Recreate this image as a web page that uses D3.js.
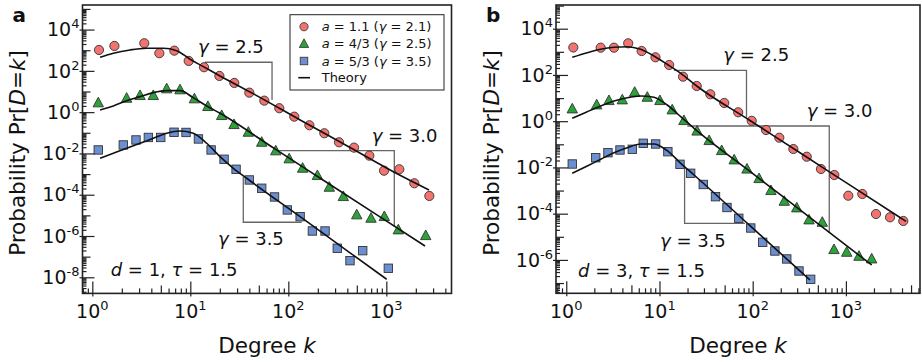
<!DOCTYPE html>
<html>
<head>
<meta charset="utf-8">
<script src="https://cdn.jsdelivr.net/npm/d3@7"></script>
<style>
  body { margin: 0; background: #fff; }
  svg { font-family: "DejaVu Sans", sans-serif; }
</style>
</head>
<body>
<svg id="chart" width="922" height="362"></svg>
<script>
// ---- panel a : d = 1, tau = 1.5 ----
const kRedA = [1.17, 1.68, 3.39, 4.83, 6.87, 9.63, 13.8, 19.8, 28.1, 40.0, 56.9, 80.9, 115, 164, 233, 329, 468, 671, 947, 1357, 1931, 2747];
const pRedA = [1.03e3, 1.61e3, 2.18e3, 714, 954, 302, 150, 56.7, 26.0, 8.81, 3.61, 1.55, 0.605, 0.232, 0.095, 0.0348, 0.0191, 7.81e-3, 1.46e-3, 1.71e-3, 3.59e-4, 8.71e-5];
const kGreenA = [1.15, 2.24, 3.07, 4.19, 5.74, 7.85, 11.0, 15.1, 20.9, 27.9, 39.1, 53.5, 74.4, 102, 140, 198, 262, 364, 499, 698, 954, 1326, 2523];
const pGreenA = [3.02, 5.04, 6.81, 6.81, 14.4, 12.9, 4.71, 2.00, 0.732, 0.268, 0.1135, 0.0372, 0.01426, 5.84e-3, 2.05e-3, 9.07e-4, 2.46e-4, 8.71e-5, 1.13e-5, 7.74e-6, 9.35e-6, 2.12e-6, 1.12e-6];
const kBlueA = [1.15, 2.07, 2.79, 3.73, 4.99, 6.82, 9.04, 12.1, 16.3, 22.1, 29.3, 40.0, 53.5, 72.3, 97.7, 132, 176, 237, 316, 426, 574, 1048];
const pBlueA = [0.01474, 0.02576, 0.045, 0.0595, 0.0595, 0.1062, 0.1039, 0.0503, 0.01474, 5.22e-3, 1.71e-3, 5.19e-4, 2.06e-4, 7.79e-5, 1.83e-5, 8.65e-6, 1.75e-6, 1.75e-6, 2.55e-7, 6.39e-8, 1.95e-7, 2.74e-8];

const kThRedA = [1.20, 1.64, 2.42, 3.59, 5.30, 7.26, 9.93, 13.6, 20.1, 40.7, 132, 426, 1380, 2728];
const pThRedA = [457, 714, 1032, 1247, 1247, 954, 366, 160, 56.7, 9.52, 0.419, 0.0195, 8.77e-4, 1.70e-4];
const kThGreenA = [1.20, 1.64, 2.24, 3.07, 4.19, 5.74, 7.85, 10.7, 14.7, 20.1, 73.1, 266, 863, 2483];
const pThGreenA = [1.28, 2.00, 3.61, 5.64, 8.81, 11.0, 11.0, 5.04, 2.00, 0.885, 0.0165, 3.14e-4, 8.46e-6, 3.29e-7];
const kThBlueA = [1.20, 1.64, 2.24, 3.07, 4.19, 5.74, 7.85, 10.7, 14.7, 20.1, 27.5, 37.6, 132, 426, 1009];
const pThBlueA = [5.84e-3, 0.0102, 0.0178, 0.0311, 0.0544, 0.095, 0.1228, 0.095, 0.0311, 6.98e-3, 1.91e-3, 6.27e-4, 8.65e-6, 1.54e-7, 8.02e-9];

// slope guides [k, P]
const slope25A = [[14.1, 262], [68.2, 262], [68.2, 3.90]];
const slope30A = [[73.1, 0.01363], [1206, 0.01363], [1206, 2.74e-6]];
const slope35A = [[34.7, 7.50e-4], [34.7, 4.63e-6], [137, 4.63e-6]];

// ---- panel b : d = 3, tau = 1.5 ----
const kRedB = [1.19, 2.34, 3.25, 4.62, 6.44, 9.06, 12.7, 17.9, 25.1, 35.1, 49.5, 69.9, 97.6, 139, 193, 273, 380, 540, 751, 1061, 1500, 2104, 2973, 4129];
const pRedB = [1540, 1511, 1511, 2341, 1087, 580, 270, 84.1, 33.3, 14.6, 6.13, 2.43, 1.04, 0.416, 0.193, 0.0627, 0.0291, 8.56e-3, 4.71e-3, 5.99e-4, 7.10e-4, 9.69e-5, 6.97e-5, 4.83e-5];
const kGreenB = [1.16, 2.12, 2.87, 3.99, 5.42, 7.40, 10.1, 13.7, 18.3, 25.3, 34.1, 46.5, 63.3, 86.9, 117, 157, 218, 297, 402, 558, 745, 1020, 1382, 1891];
const pGreenB = [3.61, 5.38, 8.26, 8.86, 18.9, 11.5, 8.26, 3.27, 1.13, 0.396, 0.1538, 0.0568, 0.0225, 9.0e-3, 3.49e-3, 1.06e-3, 3.64e-4, 1.89e-4, 5.71e-5, 4.50e-5, 2.97e-6, 2.27e-6, 1.52e-6, 1.17e-6];
const kBlueB = [1.16, 2.07, 2.80, 3.77, 5.11, 6.70, 9.10, 12.3, 16.6, 21.6, 29.5, 39.9, 53.0, 70.9, 95.4, 128, 173, 232, 314, 419];
const pBlueB = [0.01409, 0.0264, 0.0434, 0.0568, 0.0609, 0.1107, 0.1032, 0.0479, 0.01367, 5.58e-3, 1.83e-3, 5.43e-4, 1.85e-4, 6.31e-5, 2.40e-5, 5.78e-6, 2.43e-6, 1.10e-6, 3.32e-7, 1.45e-7];

const kThRedB = [1.16, 1.68, 2.34, 3.25, 4.51, 6.28, 8.73, 12.1, 16.9, 25.1, 93.5, 322, 1107, 4414];
const pThRedB = [580, 918, 1288, 1572, 1669, 1288, 661, 289, 118, 33.3, 1.07, 0.043, 1.71e-3, 4.64e-5];
const kThGreenB = [1.16, 1.68, 2.34, 3.25, 4.51, 6.28, 8.73, 12.1, 16.9, 23.5, 93.5, 322, 1891];
const pThGreenB = [1.33, 2.58, 4.54, 7.47, 10.4, 12.3, 10.8, 5.02, 1.57, 0.493, 6.74e-3, 1.46e-4, 6.03e-7];
const kThBlueB = [1.16, 1.68, 2.34, 3.25, 4.51, 6.28, 8.73, 12.1, 16.9, 23.5, 93.5, 412];
const pThBlueB = [5.58e-3, 0.01154, 0.0225, 0.0434, 0.0714, 0.1032, 0.1032, 0.053, 0.0151, 4.71e-3, 3.02e-5, 1.35e-7];

const slope25B = [[14.3, 159], [85.8, 159], [85.8, 1.45]];
const slope30B = [[19.9, 0.62], [663, 0.62], [663, 1.46e-5]];
const slope35B = [[18.6, 0.01189], [18.6, 3.84e-5], [82.7, 3.84e-5]];

// legend
const aValues = ['1.1', '4/3', '5/3'];
const gammaValues = ['2.1', '2.5', '3.5'];

const COLORS = ['#f2736f', '#2ba23a', '#6b8fd0'];
const SHAPES = ['circle', 'triangle', 'square'];
const EDGE = '#333';
const FONT_TICK = 19;

const zip = (ks, ps) => ks.map((k, i) => [k, ps[i]]);

const panels = [
  {
    letter: 'a', frame: { left: 82.5, right: 451.5, top: 5, bottom: 293.4 },
    xDomain: [0.794, 4624], yDomain: [1.66e-9, 1.55e5],
    series: [zip(kRedA, pRedA), zip(kGreenA, pGreenA), zip(kBlueA, pBlueA)],
    theory: [zip(kThRedA, pThRedA), zip(kThGreenA, pThGreenA), zip(kThBlueA, pThBlueA)],
    slopes: [slope25A, slope30A, slope35A],
    notes: [
      { t: 'γ = 2.5', x: 198, y: 53.3 },
      { t: 'γ = 3.0', x: 371.7, y: 141.7 },
      { t: 'γ = 3.5', x: 218, y: 245 }
    ],
    param: { d: '1', x: 110.7, y: 276 },
    legend: true
  },
  {
    letter: 'b', frame: { left: 556, right: 920, top: 5, bottom: 293.3 },
    xDomain: [0.776, 6237], yDomain: [3.6e-8, 1.06e5],
    series: [zip(kRedB, pRedB), zip(kGreenB, pGreenB), zip(kBlueB, pBlueB)],
    theory: [zip(kThRedB, pThRedB), zip(kThGreenB, pThGreenB), zip(kThBlueB, pThBlueB)],
    slopes: [slope25B, slope30B, slope35B],
    notes: [
      { t: 'γ = 2.5', x: 723.3, y: 60.7 },
      { t: 'γ = 3.0', x: 806.7, y: 117.3 },
      { t: 'γ = 3.5', x: 660, y: 247.3 }
    ],
    param: { d: '3', x: 578, y: 276.7 },
    legend: false
  }
];

const svg = d3.select('#chart');

function marker(sel, shape, color) {
  if (shape === 'circle') {
    sel.append('circle').attr('r', 4.6);
  } else if (shape === 'square') {
    sel.append('rect').attr('x', -4.2).attr('y', -4.2).attr('width', 8.4).attr('height', 8.4);
  } else {
    sel.append('path').attr('d', 'M0,-5L5.2,4.6L-5.2,4.6Z');
  }
  sel.selectAll('*').attr('fill', color).attr('stroke', EDGE).attr('stroke-width', 0.9);
}

function logTicks(dom) {
  const lo = Math.floor(Math.log10(dom[0]));
  const hi = Math.ceil(Math.log10(dom[1]));
  const inside = (v) => v >= dom[0] && v <= dom[1];
  const decades = d3.range(lo, hi + 1).map((e) => Math.pow(10, e)).filter(inside);
  const minor = [];
  d3.range(lo, hi + 1).forEach((e) =>
    d3.range(2, 10).forEach((m) => minor.push(m * Math.pow(10, e)))
  );
  return { decades, minor: minor.filter(inside) };
}

function tickAxis(g, axis, values, len, out) {
  const a = g.append('g').call(axis.tickValues(values).tickSize(-len).tickFormat(() => ''));
  a.select('.domain').remove();
  a.selectAll('.tick text').remove();
  a.selectAll('.tick line').attr('stroke', '#222').attr('stroke-width', 1.2);
  if (out) a.selectAll('.tick line').attr(axis.orient ? 'y1' : 'y1', 0);
  return a;
}

function powLabel(sel, exp) {
  sel.append('tspan').text('10');
  sel.append('tspan').attr('font-size', 13).attr('dy', -8).text(String(exp));
}

panels.forEach((p) => {
  const f = p.frame;
  const x = d3.scaleLog().domain(p.xDomain).range([f.left, f.right]);
  const y = d3.scaleLog().domain(p.yDomain).range([f.bottom, f.top]);
  const g = svg.append('g');

  // slope guides
  const guide = d3.line().x((d) => x(d[0])).y((d) => y(d[1]));
  g.selectAll('path.slope')
    .data(p.slopes)
    .join('path')
    .attr('class', 'slope')
    .attr('d', guide)
    .attr('fill', 'none')
    .attr('stroke', '#666')
    .attr('stroke-width', 1.3);

  // simulation markers
  p.series.forEach((s, i) => {
    g.append('g')
      .selectAll('g')
      .data(s)
      .join('g')
      .attr('transform', (d) => 'translate(' + x(d[0]) + ',' + y(d[1]) + ')')
      .each(function () { marker(d3.select(this), SHAPES[i], COLORS[i]); });
  });

  // theory curves
  const line = d3.line().x((d) => x(d[0])).y((d) => y(d[1])).curve(d3.curveMonotoneX);
  g.selectAll('path.theory')
    .data(p.theory)
    .join('path')
    .attr('class', 'theory')
    .attr('d', line)
    .attr('fill', 'none')
    .attr('stroke', '#111')
    .attr('stroke-width', 1.6);

  // annotations
  p.notes.forEach((n) => {
    const t = g.append('text').attr('x', n.x).attr('y', n.y).attr('font-size', 18).attr('fill', '#111');
    t.append('tspan').attr('font-style', 'italic').text('γ');
    t.append('tspan').text(n.t.slice(1));
  });
  const pt = g.append('text').attr('x', p.param.x).attr('y', p.param.y).attr('font-size', 18).attr('fill', '#111');
  pt.append('tspan').attr('font-style', 'italic').text('d');
  pt.append('tspan').text(' = ' + p.param.d + ', ');
  pt.append('tspan').attr('font-style', 'italic').text('τ');
  pt.append('tspan').text(' = 1.5');

  // axes: ticks point inward
  const xt = logTicks(p.xDomain);
  const yt = logTicks(p.yDomain);
  const gx = g.append('g').attr('transform', 'translate(0,' + f.bottom + ')');
  const fives = xt.minor.filter((v) => Math.abs(v / Math.pow(10, Math.floor(Math.log10(v) + 1e-9)) - 5) < 1e-6);
  tickAxis(gx, d3.axisBottom(x), xt.minor.filter((v) => !fives.includes(v)), 5);
  tickAxis(gx, d3.axisBottom(x), fives, 8);
  tickAxis(gx, d3.axisBottom(x), xt.decades, 12).selectAll('.tick line').attr('y1', 3);

  const gy = g.append('g').attr('transform', 'translate(' + f.left + ',0)');
  const evenDec = yt.decades.filter((v) => Math.round(Math.log10(v)) % 2 === 0);
  const oddDec = yt.decades.filter((v) => Math.round(Math.log10(v)) % 2 !== 0);
  tickAxis(gy, d3.axisLeft(y), yt.minor, 4);
  tickAxis(gy, d3.axisLeft(y), oddDec, 8);
  tickAxis(gy, d3.axisLeft(y), evenDec, 12).selectAll('.tick line').attr('x1', -3);

  // tick labels with superscripts
  xt.decades.forEach((v) => {
    const t = g.append('text')
      .attr('x', x(v)).attr('y', f.bottom + 25)
      .attr('text-anchor', 'middle').attr('font-size', FONT_TICK).attr('fill', '#111');
    powLabel(t, Math.round(Math.log10(v)));
  });
  evenDec.forEach((v) => {
    const t = g.append('text')
      .attr('x', f.left - 3).attr('y', y(v) + 6.7)
      .attr('text-anchor', 'end').attr('font-size', FONT_TICK).attr('fill', '#111');
    powLabel(t, Math.round(Math.log10(v)));
  });

  // frame
  g.append('rect')
    .attr('x', f.left).attr('y', f.top)
    .attr('width', f.right - f.left).attr('height', f.bottom - f.top)
    .attr('fill', 'none').attr('stroke', '#222').attr('stroke-width', 1.6);

  // axis titles
  const xl = g.append('text')
    .attr('x', (f.left + f.right) / 2).attr('y', 353)
    .attr('text-anchor', 'middle').attr('font-size', 21.5).attr('fill', '#111');
  xl.append('tspan').text('Degree ');
  xl.append('tspan').attr('font-style', 'italic').text('k');

  const yl = g.append('text')
    .attr('transform', 'translate(' + (f.left - 57.5) + ',153) rotate(-90)')
    .attr('text-anchor', 'middle').attr('font-size', 21.5).attr('fill', '#111');
  yl.append('tspan').text('Probability Pr[');
  yl.append('tspan').attr('font-style', 'italic').text('D');
  yl.append('tspan').text('=');
  yl.append('tspan').attr('font-style', 'italic').text('k');
  yl.append('tspan').text(']');

  // panel letter
  g.append('text')
    .attr('x', f.left - 70).attr('y', 22)
    .attr('font-size', 20).attr('font-weight', 'bold').attr('fill', '#111')
    .text(p.letter);

  // legend
  if (p.legend) {
    const lg = g.append('g').attr('transform', 'translate(290,14.7)');
    lg.append('rect').attr('width', 154).attr('height', 75.3)
      .attr('fill', '#fff').attr('stroke', '#222').attr('stroke-width', 1);
    const rows = [12, 28.6, 46.3, 63];
    aValues.forEach((a, i) => {
      const m = lg.append('g').attr('transform', 'translate(14,' + rows[i] + ')');
      marker(m, SHAPES[i], COLORS[i]);
      m.select('*').attr('transform', 'scale(0.9)');
      const t = lg.append('text').attr('x', 31.7).attr('y', rows[i] + 4.7)
        .attr('font-size', 13).attr('fill', '#111');
      t.append('tspan').attr('font-style', 'italic').text('a');
      t.append('tspan').text(' = ' + a + ' (');
      t.append('tspan').attr('font-style', 'italic').text('γ');
      t.append('tspan').text(' = ' + gammaValues[i] + ')');
    });
    lg.append('line').attr('x1', 8.3).attr('x2', 20).attr('y1', rows[3]).attr('y2', rows[3])
      .attr('stroke', '#111').attr('stroke-width', 1.6);
    lg.append('text').attr('x', 31.7).attr('y', rows[3] + 4.7)
      .attr('font-size', 13).attr('fill', '#111').text('Theory');
  }
});
</script>
</body>
</html>
